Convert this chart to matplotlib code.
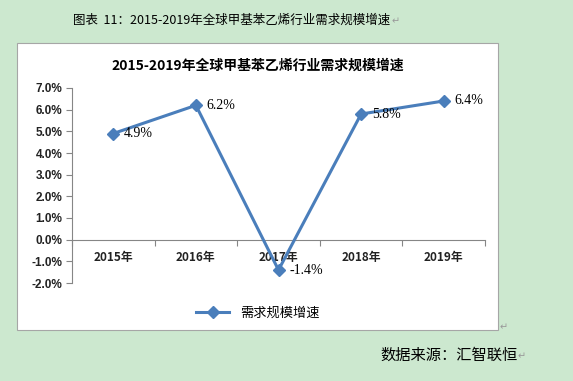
import numpy as np
import matplotlib.pyplot as plt
from matplotlib.patches import Rectangle

years = ["2015年", "2016年", "2017年", "2018年", "2019年"]
growth = [4.9, 6.2, -1.4, 5.8, 6.4]
labels = ["4.9%", "6.2%", "-1.4%", "5.8%", "6.4%"]
yticks = [-2, -1, 0, 1, 2, 3, 4, 5, 6, 7]

W, H = 573, 381
cjk = ["Noto Sans CJK SC", "DejaVu Sans"]
plt.rcParams["font.family"] = cjk

fig = plt.figure(figsize=(W / 100, H / 100), dpi=100)
fig.patch.set_facecolor("#cce8cf")

# white chart box
fig.patches.append(Rectangle((17 / W, 1 - 330 / H), (498 - 17) / W, (330 - 43) / H,
                             transform=fig.transFigure, facecolor="white",
                             edgecolor="#a6a6a6", lw=0.8, zorder=-1))

ax = fig.add_axes([72 / W, 1 - 283 / H, (485 - 72) / W, (283 - 88) / H])
ax.set_facecolor("none")
ax.set_zorder(2)

x = np.arange(len(years))
line, = ax.plot(x, growth, color="#4a7ebb", lw=2.2, marker="D", ms=6,
                label="需求规模增速", zorder=3, clip_on=False)
for xi, yi, t in zip(x, growth, labels):
    ax.text(xi + 0.13, yi, t, fontsize=10, family="Liberation Serif",
            va="center", ha="left", color="black")

ax.set_xlim(-0.5, len(years) - 0.5)
ax.set_ylim(-2, 7)
ax.set_yticks(yticks)
ax.set_yticklabels(["%.1f%%" % v for v in yticks], fontsize=8.5, fontweight="bold",
                   family="Liberation Sans", color="#222222")
ax.tick_params(axis="y", length=4, color="#868686", pad=3)

ax.spines["bottom"].set_position(("data", 0))
for s in ["top", "right"]:
    ax.spines[s].set_visible(False)
for s in ["left", "bottom"]:
    ax.spines[s].set_color("#868686")
    ax.spines[s].set_linewidth(0.8)

ax.set_xticks(np.arange(len(years) + 1) - 0.5)
ax.set_xticklabels([])
ax.tick_params(axis="x", length=4, color="#868686")
ax.set_xticks(x, minor=True)
ax.set_xticklabels(years, minor=True, fontsize=8.5, fontweight="bold", color="#222222")
ax.tick_params(axis="x", which="minor", length=0, pad=8)

fig.text(258 / W, 1 - 66 / H, "2015-2019年全球甲基苯乙烯行业需求规模增速",
         ha="center", va="center", fontsize=10, fontweight="bold")
fig.text(73 / W, 1 - 20 / H, "图表  11：2015-2019年全球甲基苯乙烯行业需求规模增速",
         ha="left", va="center", fontsize=9)
fig.text(392 / W, 1 - 21 / H, "↵", ha="left", va="center", fontsize=7,
         color="#999999", family=["DejaVu Sans"])
fig.text(518 / W, 1 - 355 / H, "数据来源：汇智联恒", ha="right", va="center",
         fontsize=11)
fig.text(518 / W, 1 - 356 / H, "↵", ha="left", va="center", fontsize=7,
         color="#999999", family=["DejaVu Sans"])
fig.text(500 / W, 1 - 327 / H, "↵", ha="left", va="center", fontsize=7,
         color="#999999", family=["DejaVu Sans"])

fig.legend(handles=[line], loc="center", bbox_to_anchor=(258 / W, 1 - 313 / H),
           frameon=False, fontsize=9.5, handlelength=2.5)

fig.savefig("out.png", dpi=100, facecolor=fig.get_facecolor())
